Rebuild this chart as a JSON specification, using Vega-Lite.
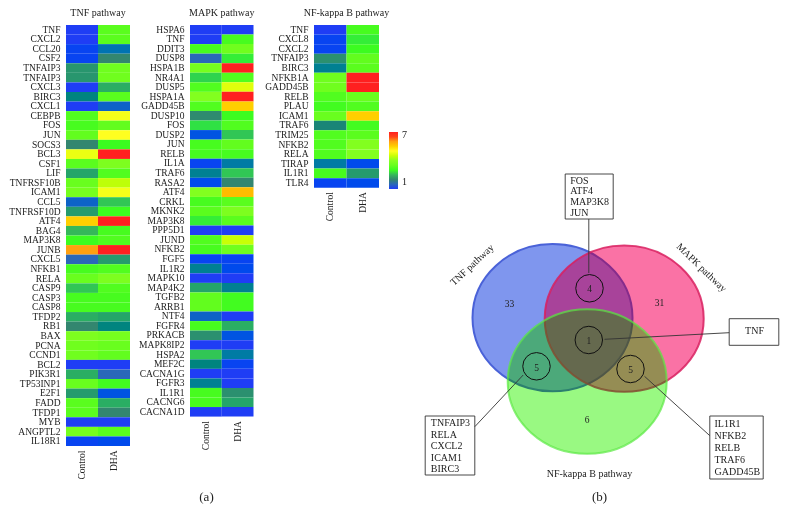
{"$schema":"https://vega.github.io/schema/vega-lite/v6.json","background":"white","padding":{"left":8,"top":8,"right":0,"bottom":0},"bounds":"flush","spacing":60,"config":{"font":"Liberation Serif","view":{"stroke":null},"title":{"font":"Liberation Serif","fontSize":10,"fontWeight":"normal","color":"#222","offset":6,"anchor":"middle"},"axis":{"grid":false,"domain":false,"ticks":false,"title":null,"labelFont":"Liberation Serif","labelFontSize":9.5,"labelColor":"#222"}},
"datasets":{"heat":[
{"p":"TNF","g":"TNF","t":"Control","v":1},{"p":"TNF","g":"TNF","t":"DHA","v":3.3},
{"p":"TNF","g":"CXCL2","t":"Control","v":1},{"p":"TNF","g":"CXCL2","t":"DHA","v":3.3},
{"p":"TNF","g":"CCL20","t":"Control","v":1.05},{"p":"TNF","g":"CCL20","t":"DHA","v":1.6},
{"p":"TNF","g":"CSF2","t":"Control","v":1.05},{"p":"TNF","g":"CSF2","t":"DHA","v":2},
{"p":"TNF","g":"TNFAIP3","t":"Control","v":2.15},{"p":"TNF","g":"TNFAIP3","t":"DHA","v":3.6},
{"p":"TNF","g":"TNFAIP3 ","t":"Control","v":2.15},{"p":"TNF","g":"TNFAIP3 ","t":"DHA","v":3.6},
{"p":"TNF","g":"CXCL3","t":"Control","v":1},{"p":"TNF","g":"CXCL3","t":"DHA","v":2.4},
{"p":"TNF","g":"BIRC3","t":"Control","v":1.9},{"p":"TNF","g":"BIRC3","t":"DHA","v":3.3},
{"p":"TNF","g":"CXCL1","t":"Control","v":1},{"p":"TNF","g":"CXCL1","t":"DHA","v":1.4},
{"p":"TNF","g":"CEBPB","t":"Control","v":3.2},{"p":"TNF","g":"CEBPB","t":"DHA","v":4.9},
{"p":"TNF","g":"FOS","t":"Control","v":3.1},{"p":"TNF","g":"FOS","t":"DHA","v":3.4},
{"p":"TNF","g":"JUN","t":"Control","v":3.4},{"p":"TNF","g":"JUN","t":"DHA","v":5},
{"p":"TNF","g":"SOCS3","t":"Control","v":2},{"p":"TNF","g":"SOCS3","t":"DHA","v":3},
{"p":"TNF","g":"BCL3","t":"Control","v":4.8},{"p":"TNF","g":"BCL3","t":"DHA","v":6.7},
{"p":"TNF","g":"CSF1","t":"Control","v":3.3},{"p":"TNF","g":"CSF1","t":"DHA","v":3.8},
{"p":"TNF","g":"LIF","t":"Control","v":2.3},{"p":"TNF","g":"LIF","t":"DHA","v":3.2},
{"p":"TNF","g":"TNFRSF10B","t":"Control","v":3.5},{"p":"TNF","g":"TNFRSF10B","t":"DHA","v":4.4},
{"p":"TNF","g":"ICAM1","t":"Control","v":3.7},{"p":"TNF","g":"ICAM1","t":"DHA","v":4.9},
{"p":"TNF","g":"CCL5","t":"Control","v":1.4},{"p":"TNF","g":"CCL5","t":"DHA","v":2.6},
{"p":"TNF","g":"TNFRSF10D","t":"Control","v":2.2},{"p":"TNF","g":"TNFRSF10D","t":"DHA","v":3},
{"p":"TNF","g":"ATF4","t":"Control","v":5.5},{"p":"TNF","g":"ATF4","t":"DHA","v":6.7},
{"p":"TNF","g":"BAG4","t":"Control","v":2.5},{"p":"TNF","g":"BAG4","t":"DHA","v":3.1},
{"p":"TNF","g":"MAP3K8","t":"Control","v":3},{"p":"TNF","g":"MAP3K8","t":"DHA","v":3.2},
{"p":"TNF","g":"JUNB","t":"Control","v":6},{"p":"TNF","g":"JUNB","t":"DHA","v":6.7},
{"p":"TNF","g":"CXCL5","t":"Control","v":1.5},{"p":"TNF","g":"CXCL5","t":"DHA","v":2.2},
{"p":"TNF","g":"NFKB1","t":"Control","v":3.1},{"p":"TNF","g":"NFKB1","t":"DHA","v":3.2},
{"p":"TNF","g":"RELA","t":"Control","v":3.5},{"p":"TNF","g":"RELA","t":"DHA","v":3.8},
{"p":"TNF","g":"CASP9","t":"Control","v":2.6},{"p":"TNF","g":"CASP9","t":"DHA","v":3.2},
{"p":"TNF","g":"CASP3","t":"Control","v":3.1},{"p":"TNF","g":"CASP3","t":"DHA","v":3.1},
{"p":"TNF","g":"CASP8","t":"Control","v":3.1},{"p":"TNF","g":"CASP8","t":"DHA","v":3.1},
{"p":"TNF","g":"TFDP2","t":"Control","v":2.4},{"p":"TNF","g":"TFDP2","t":"DHA","v":2.3},
{"p":"TNF","g":"RB1","t":"Control","v":2},{"p":"TNF","g":"RB1","t":"DHA","v":1.9},
{"p":"TNF","g":"BAX","t":"Control","v":3.8},{"p":"TNF","g":"BAX","t":"DHA","v":3.7},
{"p":"TNF","g":"PCNA","t":"Control","v":3.6},{"p":"TNF","g":"PCNA","t":"DHA","v":3.5},
{"p":"TNF","g":"CCND1","t":"Control","v":3.6},{"p":"TNF","g":"CCND1","t":"DHA","v":3.4},
{"p":"TNF","g":"BCL2","t":"Control","v":1},{"p":"TNF","g":"BCL2","t":"DHA","v":1},
{"p":"TNF","g":"PIK3R1","t":"Control","v":2.4},{"p":"TNF","g":"PIK3R1","t":"DHA","v":1.5},
{"p":"TNF","g":"TP53INP1","t":"Control","v":3.5},{"p":"TNF","g":"TP53INP1","t":"DHA","v":3.05},
{"p":"TNF","g":"E2F1","t":"Control","v":2.2},{"p":"TNF","g":"E2F1","t":"DHA","v":1.2},
{"p":"TNF","g":"FADD","t":"Control","v":3.3},{"p":"TNF","g":"FADD","t":"DHA","v":2.4},
{"p":"TNF","g":"TFDP1","t":"Control","v":3.3},{"p":"TNF","g":"TFDP1","t":"DHA","v":2},
{"p":"TNF","g":"MYB","t":"Control","v":1},{"p":"TNF","g":"MYB","t":"DHA","v":1},
{"p":"TNF","g":"ANGPTL2","t":"Control","v":3.7},{"p":"TNF","g":"ANGPTL2","t":"DHA","v":3.3},
{"p":"TNF","g":"IL18R1","t":"Control","v":1.05},{"p":"TNF","g":"IL18R1","t":"DHA","v":1.1},
{"p":"MAPK","g":"HSPA6","t":"Control","v":1},{"p":"MAPK","g":"HSPA6","t":"DHA","v":1},
{"p":"MAPK","g":"TNF","t":"Control","v":1},{"p":"MAPK","g":"TNF","t":"DHA","v":3.1},
{"p":"MAPK","g":"DDIT3","t":"Control","v":3.1},{"p":"MAPK","g":"DDIT3","t":"DHA","v":3.6},
{"p":"MAPK","g":"DUSP8","t":"Control","v":1.5},{"p":"MAPK","g":"DUSP8","t":"DHA","v":2.9},
{"p":"MAPK","g":"HSPA1B","t":"Control","v":3.7},{"p":"MAPK","g":"HSPA1B","t":"DHA","v":6.7},
{"p":"MAPK","g":"NR4A1","t":"Control","v":2.7},{"p":"MAPK","g":"NR4A1","t":"DHA","v":3.2},
{"p":"MAPK","g":"DUSP5","t":"Control","v":3.2},{"p":"MAPK","g":"DUSP5","t":"DHA","v":4.7},
{"p":"MAPK","g":"HSPA1A","t":"Control","v":3.9},{"p":"MAPK","g":"HSPA1A","t":"DHA","v":6.8},
{"p":"MAPK","g":"GADD45B","t":"Control","v":3.2},{"p":"MAPK","g":"GADD45B","t":"DHA","v":5.5},
{"p":"MAPK","g":"DUSP10","t":"Control","v":2.05},{"p":"MAPK","g":"DUSP10","t":"DHA","v":3},
{"p":"MAPK","g":"FOS","t":"Control","v":2.8},{"p":"MAPK","g":"FOS","t":"DHA","v":3.2},
{"p":"MAPK","g":"DUSP2","t":"Control","v":1.2},{"p":"MAPK","g":"DUSP2","t":"DHA","v":2.6},
{"p":"MAPK","g":"JUN","t":"Control","v":3.1},{"p":"MAPK","g":"JUN","t":"DHA","v":3.4},
{"p":"MAPK","g":"RELB","t":"Control","v":3.1},{"p":"MAPK","g":"RELB","t":"DHA","v":3.1},
{"p":"MAPK","g":"IL1A","t":"Control","v":1.05},{"p":"MAPK","g":"IL1A","t":"DHA","v":1.7},
{"p":"MAPK","g":"TRAF6","t":"Control","v":1.8},{"p":"MAPK","g":"TRAF6","t":"DHA","v":2.6},
{"p":"MAPK","g":"RASA2","t":"Control","v":1.1},{"p":"MAPK","g":"RASA2","t":"DHA","v":2},
{"p":"MAPK","g":"ATF4","t":"Control","v":3.9},{"p":"MAPK","g":"ATF4","t":"DHA","v":5.7},
{"p":"MAPK","g":"CRKL","t":"Control","v":3.1},{"p":"MAPK","g":"CRKL","t":"DHA","v":3.3},
{"p":"MAPK","g":"MKNK2","t":"Control","v":3.3},{"p":"MAPK","g":"MKNK2","t":"DHA","v":3.8},
{"p":"MAPK","g":"MAP3K8","t":"Control","v":2.9},{"p":"MAPK","g":"MAP3K8","t":"DHA","v":3.3},
{"p":"MAPK","g":"PPP5D1","t":"Control","v":1},{"p":"MAPK","g":"PPP5D1","t":"DHA","v":1},
{"p":"MAPK","g":"JUND","t":"Control","v":3.2},{"p":"MAPK","g":"JUND","t":"DHA","v":4.5},
{"p":"MAPK","g":"NFKB2","t":"Control","v":3.1},{"p":"MAPK","g":"NFKB2","t":"DHA","v":3.6},
{"p":"MAPK","g":"FGF5","t":"Control","v":1.05},{"p":"MAPK","g":"FGF5","t":"DHA","v":1.05},
{"p":"MAPK","g":"IL1R2","t":"Control","v":1.8},{"p":"MAPK","g":"IL1R2","t":"DHA","v":1.1},
{"p":"MAPK","g":"MAPK10","t":"Control","v":1},{"p":"MAPK","g":"MAPK10","t":"DHA","v":1},
{"p":"MAPK","g":"MAP4K2","t":"Control","v":2.3},{"p":"MAPK","g":"MAP4K2","t":"DHA","v":1.8},
{"p":"MAPK","g":"TGFB2","t":"Control","v":3.4},{"p":"MAPK","g":"TGFB2","t":"DHA","v":3.05},
{"p":"MAPK","g":"ARRB1","t":"Control","v":3.4},{"p":"MAPK","g":"ARRB1","t":"DHA","v":3.05},
{"p":"MAPK","g":"NTF4","t":"Control","v":1.4},{"p":"MAPK","g":"NTF4","t":"DHA","v":1},
{"p":"MAPK","g":"FGFR4","t":"Control","v":3.1},{"p":"MAPK","g":"FGFR4","t":"DHA","v":2.4},
{"p":"MAPK","g":"PRKACB","t":"Control","v":2.1},{"p":"MAPK","g":"PRKACB","t":"DHA","v":1.2},
{"p":"MAPK","g":"MAPK8IP2","t":"Control","v":1},{"p":"MAPK","g":"MAPK8IP2","t":"DHA","v":1},
{"p":"MAPK","g":"HSPA2","t":"Control","v":2.6},{"p":"MAPK","g":"HSPA2","t":"DHA","v":1.7},
{"p":"MAPK","g":"MEF2C","t":"Control","v":1.9},{"p":"MAPK","g":"MEF2C","t":"DHA","v":1.05},
{"p":"MAPK","g":"CACNA1G","t":"Control","v":1},{"p":"MAPK","g":"CACNA1G","t":"DHA","v":1},
{"p":"MAPK","g":"FGFR3","t":"Control","v":1.8},{"p":"MAPK","g":"FGFR3","t":"DHA","v":1},
{"p":"MAPK","g":"IL1R1","t":"Control","v":3.1},{"p":"MAPK","g":"IL1R1","t":"DHA","v":2.1},
{"p":"MAPK","g":"CACNG6","t":"Control","v":3.1},{"p":"MAPK","g":"CACNG6","t":"DHA","v":2.3},
{"p":"MAPK","g":"CACNA1D","t":"Control","v":1},{"p":"MAPK","g":"CACNA1D","t":"DHA","v":1},
{"p":"NFKB","g":"TNF","t":"Control","v":1},{"p":"NFKB","g":"TNF","t":"DHA","v":3.1},
{"p":"NFKB","g":"CXCL8","t":"Control","v":1.05},{"p":"NFKB","g":"CXCL8","t":"DHA","v":2.9},
{"p":"NFKB","g":"CXCL2","t":"Control","v":1.05},{"p":"NFKB","g":"CXCL2","t":"DHA","v":3},
{"p":"NFKB","g":"TNFAIP3","t":"Control","v":2.1},{"p":"NFKB","g":"TNFAIP3","t":"DHA","v":3.4},
{"p":"NFKB","g":"BIRC3","t":"Control","v":1.8},{"p":"NFKB","g":"BIRC3","t":"DHA","v":3.3},
{"p":"NFKB","g":"NFKB1A","t":"Control","v":3.6},{"p":"NFKB","g":"NFKB1A","t":"DHA","v":6.7},
{"p":"NFKB","g":"GADD45B","t":"Control","v":3.6},{"p":"NFKB","g":"GADD45B","t":"DHA","v":6.7},
{"p":"NFKB","g":"RELB","t":"Control","v":3.2},{"p":"NFKB","g":"RELB","t":"DHA","v":3.5},
{"p":"NFKB","g":"PLAU","t":"Control","v":3.05},{"p":"NFKB","g":"PLAU","t":"DHA","v":3.2},
{"p":"NFKB","g":"ICAM1","t":"Control","v":3.5},{"p":"NFKB","g":"ICAM1","t":"DHA","v":5.5},
{"p":"NFKB","g":"TRAF6","t":"Control","v":1.95},{"p":"NFKB","g":"TRAF6","t":"DHA","v":3.05},
{"p":"NFKB","g":"TRIM25","t":"Control","v":3.2},{"p":"NFKB","g":"TRIM25","t":"DHA","v":3.3},
{"p":"NFKB","g":"NFKB2","t":"Control","v":3.2},{"p":"NFKB","g":"NFKB2","t":"DHA","v":3.9},
{"p":"NFKB","g":"RELA","t":"Control","v":3.2},{"p":"NFKB","g":"RELA","t":"DHA","v":3.9},
{"p":"NFKB","g":"TIRAP","t":"Control","v":1.7},{"p":"NFKB","g":"TIRAP","t":"DHA","v":1.1},
{"p":"NFKB","g":"IL1R1","t":"Control","v":3.1},{"p":"NFKB","g":"IL1R1","t":"DHA","v":2.2},
{"p":"NFKB","g":"TLR4","t":"Control","v":1.05},{"p":"NFKB","g":"TLR4","t":"DHA","v":1.1}
]},
"hconcat":[
{"title":"TNF pathway","width":64,"height":421,"data":{"name":"heat"},"transform":[{"filter":"datum.p==='TNF'"}],"mark":{"type":"rect"},"encoding":{"x":{"field":"t","type":"nominal","scale":{"paddingInner":0,"paddingOuter":0},"axis":{"labelAngle":-90,"labelPadding":4,"encode":{"labels":{"update":{"dy":{"signal":"datum.value==='Control'?3.5:-2.5"}}}}}},"y":{"field":"g","type":"ordinal","sort":null,"scale":{"paddingInner":0,"paddingOuter":0},"axis":{"labelPadding":6,"labelAlign":"right"}},"color":{"field":"v","type":"quantitative","scale":{"domain":[1,1.5,2,2.5,3,4,5,6,6.6,7],"range":["#1f3df5","#2a68b8","#33866f","#35b85a","#3cfc20","#88ff20","#ffff20","#ffa010","#ff2020","#ff2020"]},"legend":{"orient":"none","legendX":323,"legendY":107,"title":null,"values":[1,7],"gradientLength":57,"gradientThickness":9,"labelFont":"Liberation Serif","labelFontSize":10,"labelColor":"#222","labelOffset":4,"labelBaseline":"middle","encode":{"labels":{"update":{"dy":{"value":-2}}}}}}}},
{"title":"MAPK pathway","width":63.5,"height":391.6,"data":{"name":"heat"},"transform":[{"filter":"datum.p==='MAPK'"}],"mark":{"type":"rect"},"encoding":{"x":{"field":"t","type":"nominal","scale":{"paddingInner":0,"paddingOuter":0},"axis":{"labelAngle":-90,"labelPadding":4,"encode":{"labels":{"update":{"dy":{"signal":"datum.value==='Control'?2:-2.5"}}}}}},"y":{"field":"g","type":"ordinal","sort":null,"scale":{"paddingInner":0,"paddingOuter":0},"axis":{"labelPadding":6,"labelAlign":"right"}},"color":{"field":"v","type":"quantitative","scale":{"domain":[1,1.5,2,2.5,3,4,5,6,6.6,7],"range":["#1f3df5","#2a68b8","#33866f","#35b85a","#3cfc20","#88ff20","#ffff20","#ffa010","#ff2020","#ff2020"]}}}},
{"title":"NF-kappa B pathway","width":65,"height":162.7,"data":{"name":"heat"},"transform":[{"filter":"datum.p==='NFKB'"}],"mark":{"type":"rect"},"encoding":{"x":{"field":"t","type":"nominal","scale":{"paddingInner":0,"paddingOuter":0},"axis":{"labelAngle":-90,"labelPadding":4,"encode":{"labels":{"update":{"dy":{"value":-1}}}}}},"y":{"field":"g","type":"ordinal","sort":null,"scale":{"paddingInner":0,"paddingOuter":0},"axis":{"labelPadding":6,"labelAlign":"right"}},"color":{"field":"v","type":"quantitative","scale":{"domain":[1,1.5,2,2.5,3,4,5,6,6.6,7],"range":["#1f3df5","#2a68b8","#33866f","#35b85a","#3cfc20","#88ff20","#ffff20","#ffa010","#ff2020","#ff2020"]}}}},
{"width":348.5,"height":499,"encoding":{"x":{"field":"x","type":"quantitative","axis":null,"scale":{"domain":[18.5,367],"nice":false,"zero":false}},"y":{"field":"y","type":"quantitative","axis":null,"scale":{"domain":[-140,359],"reverse":true,"nice":false,"zero":false}}},
"layer":[
{"data":{"values":[{"set":"TNF pathway","x":132,"y":152.7}]},"mark":{"type":"point","filled":true,"shape":"M-1,0A1,0.92,0,1,0,1,0A1,0.92,0,1,0,-1,0Z","size":25600,"fill":"#7f96ee","stroke":"#4a62d8","strokeWidth":2,"opacity":1}},
{"data":{"values":[{"set":"MAPK pathway","x":203.7,"y":153.7}]},"mark":{"type":"point","filled":true,"shape":"M-1,0A1,0.92,0,1,0,1,0A1,0.92,0,1,0,-1,0Z","size":25281,"fill":"#f7adfb","opacity":1,"blend":"multiply","strokeWidth":0}},
{"data":{"values":[{"set":"MAPK pathway","x":203.7,"y":153.7}]},"mark":{"type":"point","filled":true,"shape":"M-1,0A1,0.92,0,1,0,1,0A1,0.92,0,1,0,-1,0Z","size":25281,"fill":"#ff0000","fillOpacity":0.34,"stroke":"#d8205f","strokeOpacity":0.85,"strokeWidth":2,"opacity":1}},
{"data":{"values":[{"set":"NF-kappa B pathway","x":166.7,"y":216.5}]},"mark":{"type":"point","filled":true,"shape":"M-1,0A1,0.91,0,1,0,1,0A1,0.91,0,1,0,-1,0Z","size":25281,"fill":"#c2f8a6","opacity":1,"blend":"multiply","strokeWidth":0}},
{"data":{"values":[{"set":"NF-kappa B pathway","x":166.7,"y":216.5}]},"mark":{"type":"point","filled":true,"shape":"M-1,0A1,0.91,0,1,0,1,0A1,0.91,0,1,0,-1,0Z","size":25281,"fill":"#00ff00","fillOpacity":0.21,"stroke":"#58e840","strokeOpacity":0.7,"strokeWidth":2,"opacity":1}},
{"data":{"values":[{"x":169,"y":123.3},{"x":168.3,"y":175},{"x":116,"y":201.3},{"x":210,"y":204}]},"mark":{"type":"point","shape":"circle","size":755,"filled":false,"stroke":"#111","strokeWidth":1,"opacity":1}},
{"data":{"values":[{"n":"33","x":89,"y":139},{"n":"31","x":239,"y":138.3},{"n":"4","x":169,"y":124},{"n":"1","x":168.3,"y":176},{"n":"5","x":116,"y":202.5},{"n":"5","x":210,"y":205},{"n":"6","x":166.7,"y":254.7}]},"mark":{"type":"text","fontSize":9.5,"color":"#222","align":"center","baseline":"middle"},"encoding":{"text":{"field":"n"}}},
{"data":{"values":[{"x":168.3,"y":54,"x2":168.3,"y2":108},{"x":184,"y":174.3,"x2":308.7,"y2":167.7},{"x":102.7,"y":210,"x2":54.3,"y2":261.7},{"x":224,"y":211.3,"x2":289.3,"y2":270.7}]},"mark":{"type":"rule","stroke":"#333","strokeWidth":0.9},"encoding":{"x2":{"field":"x2"},"y2":{"field":"y2"}}},
{"data":{"values":[{"x":144.7,"y":9,"x2":192.7,"y2":54},{"x":308.7,"y":153.7,"x2":358.3,"y2":180.3},{"x":4.7,"y":251,"x2":54.3,"y2":310},{"x":289.3,"y":251,"x2":342.7,"y2":314}]},"mark":{"type":"rect","fill":"white","fillOpacity":0,"stroke":"#333","strokeWidth":0.9},"encoding":{"x2":{"field":"x2"},"y2":{"field":"y2"}}},
{"data":{"values":[{"s":"FOS","x":149.7,"y":15.7},{"s":"ATF4","x":149.7,"y":26.3},{"s":"MAP3K8","x":149.7,"y":37},{"s":"JUN","x":149.7,"y":47.7},{"s":"TNFAIP3","x":10.3,"y":257.7},{"s":"RELA","x":10.3,"y":269.7},{"s":"CXCL2","x":10.3,"y":281},{"s":"ICAM1","x":10.3,"y":292.7},{"s":"BIRC3","x":10.3,"y":304},{"s":"IL1R1","x":294,"y":258.7},{"s":"NFKB2","x":294,"y":270.7},{"s":"RELB","x":294,"y":282.7},{"s":"TRAF6","x":294,"y":295},{"s":"GADD45B","x":294,"y":307}]},"mark":{"type":"text","fontSize":10,"color":"#222","align":"left","baseline":"middle"},"encoding":{"text":{"field":"s"}}},
{"data":{"values":[{"s":"TNF","x":334,"y":166},{"s":"NF-kappa B pathway","x":169,"y":308.7}]},"mark":{"type":"text","fontSize":10,"color":"#222","align":"center","baseline":"middle"},"encoding":{"text":{"field":"s"}}},
{"data":{"values":[{"s":"TNF pathway","x":51.7,"y":100}]},"mark":{"type":"text","fontSize":10,"color":"#222","align":"center","baseline":"middle","angle":317},"encoding":{"text":{"field":"s"}}},
{"data":{"values":[{"s":"MAPK pathway","x":281,"y":102.7}]},"mark":{"type":"text","fontSize":10,"color":"#222","align":"center","baseline":"middle","angle":44},"encoding":{"text":{"field":"s"}}},
{"data":{"values":[{"s":"(a)","x":-214,"y":332},{"s":"(b)","x":179,"y":332}]},"mark":{"type":"text","fontSize":13,"color":"#222","align":"center","baseline":"middle"},"encoding":{"text":{"field":"s"}}}
]}
]}
